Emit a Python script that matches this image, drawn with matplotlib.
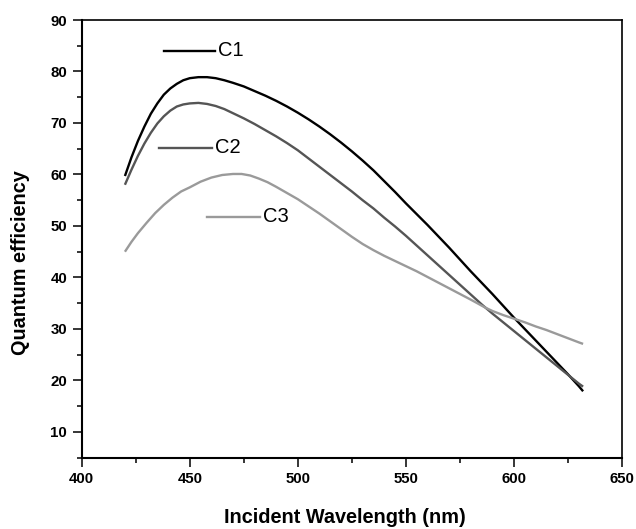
import matplotlib
matplotlib.use("Agg")
import matplotlib.pyplot as plt
from matplotlib.ticker import MultipleLocator

plt.rcParams['font.family'] = ['Liberation Sans', 'DejaVu Sans']

c1_x = [420, 423, 426, 429, 432, 435, 438, 441, 444, 447, 450, 454, 458, 462, 466, 470, 475, 480, 485, 490,
        495, 500, 505, 510, 515, 520, 525, 530, 535, 540, 545, 550, 555, 560, 565, 570, 575, 580, 585, 590,
        595, 600, 605, 610, 615, 620, 625, 630, 632]
c1_y = [59.7, 63.3, 66.5, 69.3, 71.8, 73.8, 75.5, 76.7, 77.6, 78.3, 78.7, 78.9, 78.9, 78.7, 78.3, 77.8, 77.1, 76.2, 75.3, 74.3,
        73.2, 72.0, 70.7, 69.3, 67.8, 66.2, 64.5, 62.7, 60.8, 58.7, 56.6, 54.4, 52.3, 50.2, 48.0, 45.8, 43.5, 41.2, 39.0, 36.8,
        34.5, 32.2, 30.0, 27.8, 25.6, 23.4, 21.2, 18.9, 17.9]

c2_x = [420, 423, 426, 429, 432, 435, 438, 441, 444, 447, 450, 454, 458, 462, 466, 470, 475, 480, 485, 490,
        495, 500, 505, 510, 515, 520, 525, 530, 535, 540, 545, 550, 555, 560, 565, 570, 575, 580, 585, 590,
        595, 600, 605, 610, 615, 620, 625, 630, 632]
c2_y = [58.0, 60.9, 63.6, 66.0, 68.1, 69.9, 71.3, 72.4, 73.2, 73.6, 73.8, 73.9, 73.7, 73.3, 72.7, 71.9, 70.9, 69.8, 68.6, 67.4,
        66.1, 64.7, 63.1, 61.5, 59.9, 58.3, 56.7, 55.0, 53.4, 51.6, 49.9, 48.1, 46.2, 44.3, 42.4, 40.5, 38.6, 36.7, 34.8, 33.0,
        31.3, 29.6, 27.9, 26.2, 24.5, 22.8, 21.1, 19.4, 18.8]

c3_x = [420, 423, 426, 430, 434, 438, 442, 446, 450, 455, 460, 465, 470, 474, 478, 482, 486, 490, 495, 500,
        505, 510, 515, 520, 525, 530, 535, 540, 545, 550, 555, 560, 565, 570, 575, 580, 586.5, 590, 595, 600,
        605, 610, 615, 620, 625, 630, 632]
c3_y = [45.0, 46.9, 48.6, 50.6, 52.5, 54.1, 55.5, 56.7, 57.5, 58.6, 59.4, 59.9, 60.1, 60.1, 59.8, 59.2, 58.5, 57.6, 56.4, 55.2,
        53.8, 52.4, 50.9, 49.4, 47.9, 46.5, 45.3, 44.2, 43.2, 42.2, 41.2, 40.1, 39.0, 37.9, 36.8, 35.7, 34.2, 33.5, 32.7, 32.0,
        31.3, 30.5, 29.8, 29.0, 28.2, 27.4, 27.1]

series_names = ["C1", "C2", "C3"]
series_colors = ["#000000", "#555555", "#9a9a9a"]

fig = plt.figure(figsize=(6.36, 5.29), dpi=100)
ax = fig.add_axes([81.7/636, 1 - 457.7/529, (622 - 81.7)/636, (457.7 - 20)/529])

for xs, ys, col in zip([c1_x, c2_x, c3_x], [c1_y, c2_y, c3_y], series_colors):
    ax.plot(xs, ys, color=col, lw=1.7, solid_capstyle='butt', solid_joinstyle='round')

# scattered legend entries
leg_pos = [(0.152, 0.246, 0.930), (0.143, 0.241, 0.708), (0.232, 0.330, 0.551)]
for name, col, (x0, x1, yy) in zip(series_names, series_colors, leg_pos):
    ax.plot([x0, x1], [yy, yy], color=col, lw=1.7, transform=ax.transAxes)
    ax.text(x1 + 0.006, yy, name, transform=ax.transAxes, fontsize=14.5,
            va='center', ha='left', color='black')

ax.set_xlim(400, 650)
ax.set_ylim(5, 90)
ax.xaxis.set_major_locator(MultipleLocator(50))
ax.xaxis.set_minor_locator(MultipleLocator(25))
ax.yaxis.set_major_locator(MultipleLocator(10))
ax.yaxis.set_minor_locator(MultipleLocator(5))
ax.tick_params(which='major', direction='out', length=6.5, width=1.1, labelsize=10.8, pad=4)
ax.tick_params(which='minor', direction='out', length=3.5, width=1.1)
ax.tick_params(top=False, right=False)
for lab in ax.get_xticklabels() + ax.get_yticklabels():
    lab.set_fontweight('bold')
for sp in ax.spines.values():
    sp.set_linewidth(1.2)
ax.spines['left'].set_linewidth(1.5)
ax.spines['bottom'].set_linewidth(1.5)

ax.set_xlabel('Incident Wavelength (nm)', fontsize=14.3, fontweight='bold')
ax.set_ylabel('Quantum efficiency', fontsize=14.3, fontweight='bold')
ax.xaxis.set_label_coords(0.487, -0.116)
ax.yaxis.set_label_coords(-0.095, 0.445)

fig.savefig('out.png', dpi=100)
